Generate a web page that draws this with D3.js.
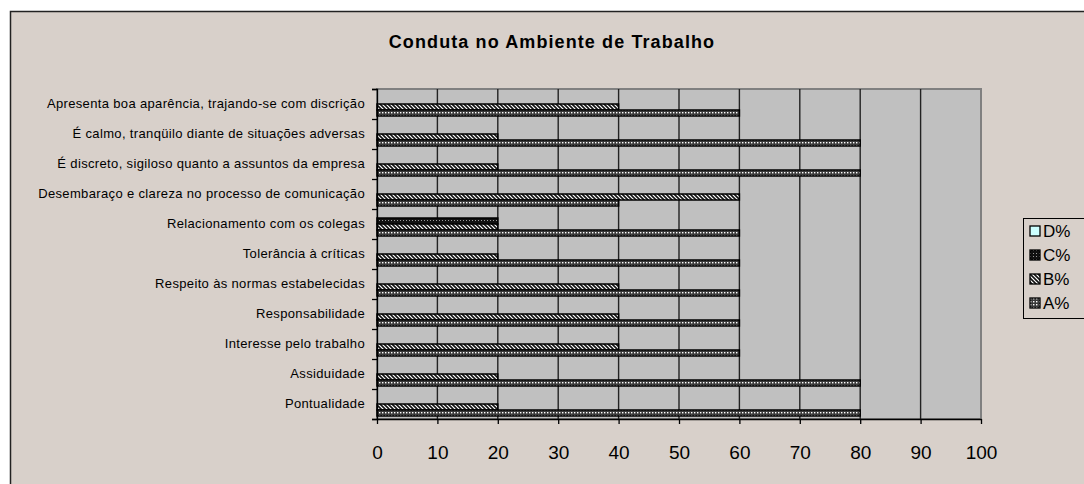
<!DOCTYPE html>
<html>
<head>
<meta charset="utf-8">
<script src="https://cdn.jsdelivr.net/npm/d3@7"></script>
<style>
  body { margin: 0; background: #ffffff; }
  text { font-family: Arial, "Liberation Sans", sans-serif; fill: #000; }
</style>
</head>
<body>
<svg id="chart" width="1084" height="484"></svg>
<script>
// categories, listed top to bottom as in the chart
var categories = [
    "Apresenta boa aparência, trajando-se com discrição",
    "É calmo, tranqüilo diante de situações adversas",
    "É discreto, sigiloso quanto a assuntos da empresa",
    "Desembaraço e clareza no processo de comunicação",
    "Relacionamento com os colegas",
    "Tolerância à críticas",
    "Respeito às normas estabelecidas",
    "Responsabilidade",
    "Interesse pelo trabalho",
    "Assiduidade",
    "Pontualidade"
];
var seriesA = [60, 80, 80, 40, 60, 60, 60, 60, 60, 80, 80];
var seriesB = [40, 20, 20, 60, 20, 20, 40, 40, 40, 20, 20];
var seriesC = [0, 0, 0, 0, 20, 0, 0, 0, 0, 0, 0];
var seriesD = [0, 0, 0, 0, 0, 0, 0, 0, 0, 0, 0];
var seriesNames = ["D%", "C%", "B%", "A%"];   // top to bottom inside a group
var xTicks = [0, 10, 20, 30, 40, 50, 60, 70, 80, 90, 100];

var svg = d3.select("#chart");

// patterns
var defs = svg.append("defs");
var pA = defs.append("pattern").attr("id", "patA").attr("patternUnits", "userSpaceOnUse")
    .attr("width", 3).attr("height", 3);
pA.append("rect").attr("width", 3).attr("height", 3).attr("fill", "#3a3a3a");
pA.append("rect").attr("x", 1).attr("y", 1).attr("width", 1.4).attr("height", 1.4).attr("fill", "#ffffff");

var pB = defs.append("pattern").attr("id", "patB").attr("patternUnits", "userSpaceOnUse")
    .attr("width", 4).attr("height", 4);
pB.append("rect").attr("width", 4).attr("height", 4).attr("fill", "#ffffff");
pB.append("path").attr("d", "M-1,-1 L5,5 M-1,3 L1,5 M3,-1 L5,1")
    .attr("stroke", "#111").attr("stroke-width", 1.6);

var pC = defs.append("pattern").attr("id", "patC").attr("patternUnits", "userSpaceOnUse")
    .attr("width", 3).attr("height", 3);
pC.append("rect").attr("width", 3).attr("height", 3).attr("fill", "#111");
pC.append("rect").attr("x", 1).attr("y", 1).attr("width", 1).attr("height", 1).attr("fill", "#9a9a9a");

var fills = { "D%": "#ccffff", "C%": "url(#patC)", "B%": "url(#patB)", "A%": "url(#patA)" };
var values = { "D%": seriesD, "C%": seriesC, "B%": seriesB, "A%": seriesA };

// chart area background and frame
svg.append("rect")
    .attr("x", 10.5).attr("y", 11.5)
    .attr("width", 1100).attr("height", 490)
    .attr("fill", "#d8d0ca")
    .attr("stroke", "#222").attr("stroke-width", 1.5);

// title
svg.append("text")
    .attr("x", 552).attr("y", 48)
    .attr("text-anchor", "middle")
    .attr("font-size", "18px").attr("font-weight", "bold")
    .attr("letter-spacing", "1.1px")
    .text("Conduta no Ambiente de Trabalho");

// scales
var plotLeft = 377, plotRight = 981, plotTop = 89, plotBottom = 419;
var x = d3.scaleLinear().domain([0, 100]).range([plotLeft, plotRight]);
var y = d3.scaleBand().domain(categories).range([plotTop, plotBottom])
    .paddingInner(0.2).paddingOuter(0.1);
var ySub = d3.scaleBand().domain(seriesNames).range([0, y.bandwidth()]);

// plot area
svg.append("rect")
    .attr("x", plotLeft).attr("y", plotTop)
    .attr("width", plotRight - plotLeft).attr("height", plotBottom - plotTop)
    .attr("fill", "#c0c0c0")
    .attr("stroke", "#808080").attr("stroke-width", 2);

// vertical gridlines
svg.append("g").selectAll("line")
    .data(xTicks.slice(1, -1))
    .enter().append("line")
    .attr("x1", function(d) { return x(d); })
    .attr("x2", function(d) { return x(d); })
    .attr("y1", plotTop).attr("y2", plotBottom)
    .attr("stroke", "#222").attr("stroke-width", 1.4);

// bars
seriesNames.forEach(function(s) {
    svg.append("g").selectAll("rect")
        .data(categories.map(function(c, i) { return { c: c, v: values[s][i] }; })
            .filter(function(d) { return d.v > 0; }))
        .enter().append("rect")
        .attr("x", x(0))
        .attr("y", function(d) { return y(d.c) + ySub(s); })
        .attr("width", function(d) { return x(d.v) - x(0); })
        .attr("height", ySub.bandwidth())
        .attr("fill", fills[s])
        .attr("stroke", "#000").attr("stroke-width", 1.5);
});

// category labels
svg.append("g").selectAll("text")
    .data(categories)
    .enter().append("text")
    .attr("x", 365)
    .attr("y", function(d) { return y(d) + y.bandwidth() / 2 - 1; })
    .attr("dy", "0.35em")
    .attr("text-anchor", "end")
    .attr("font-size", "13px")
    .attr("letter-spacing", "0.35px")
    .text(function(d) { return d; });

// y axis with ticks between categories
var yTick = d3.scaleLinear().domain([0, categories.length]).range([plotTop, plotBottom]);
var yAxis = svg.append("g")
    .attr("transform", "translate(" + plotLeft + ",0)")
    .call(d3.axisLeft(yTick).tickValues(d3.range(categories.length + 1)).tickSize(5).tickFormat(""));
yAxis.selectAll("path, line").attr("stroke", "#000").attr("stroke-width", 1.3);

// x axis
var xAxis = svg.append("g")
    .attr("transform", "translate(0," + plotBottom + ")")
    .call(d3.axisBottom(x).tickValues(xTicks).tickSize(5).tickSizeOuter(0).tickPadding(22));
xAxis.selectAll("path, line").attr("stroke", "#000").attr("stroke-width", 1.3);
xAxis.selectAll("text").attr("font-size", "19px")
    .attr("font-family", "Arial, 'Liberation Sans', sans-serif");

// legend
var legend = svg.append("g").attr("transform", "translate(1023,218)");
legend.append("rect")
    .attr("x", 0.5).attr("y", 0.5).attr("width", 100).attr("height", 100)
    .attr("fill", "#d8d0ca").attr("stroke", "#000").attr("stroke-width", 1);
seriesNames.forEach(function(s, i) {
    var g = legend.append("g").attr("transform", "translate(0," + (13 + i * 24) + ")");
    g.append("rect").attr("x", 7).attr("y", -5).attr("width", 10).attr("height", 10)
        .attr("fill", fills[s]).attr("stroke", "#000").attr("stroke-width", 1.3);
    g.append("text").attr("x", 20).attr("y", 0).attr("dy", "0.36em")
        .attr("font-size", "17px").text(s);
});
</script>
</body>
</html>
